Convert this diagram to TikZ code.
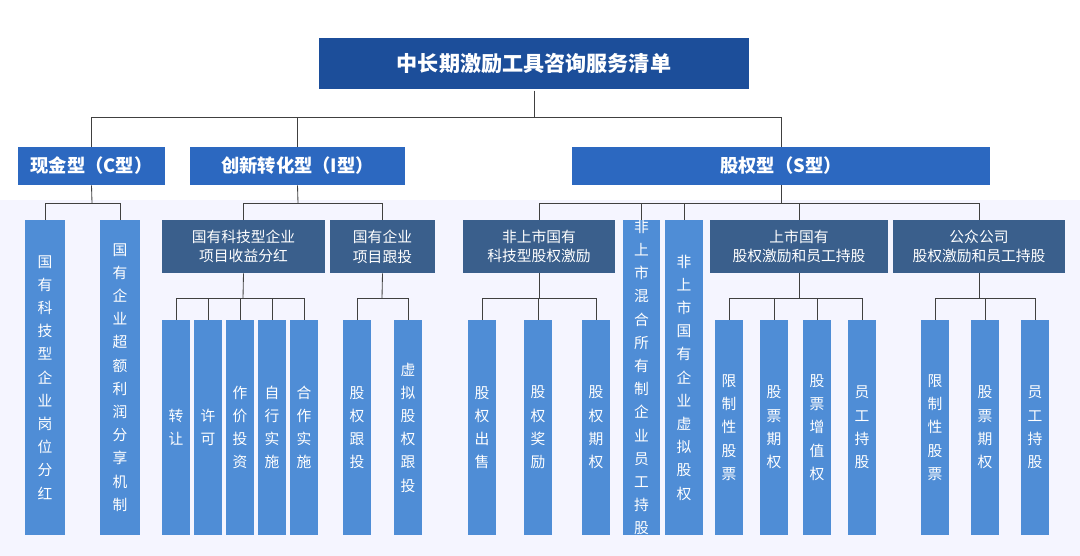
\documentclass[tikz,border=0pt]{standalone}
\usepackage{fontspec}
\setmainfont{Noto Sans CJK SC}
\XeTeXlinebreaklocale "zh"
\XeTeXlinebreakskip=0pt plus 1pt
\usetikzlibrary{positioning}

\tikzset{
  topbox/.style={draw=white,line width=1pt,fill=titleblue,text=white,font=\bfseries\fontsize{15}{18}\selectfont},
  typebox/.style={fill=typeblue,text=white,font=\bfseries\fontsize{13}{16}\selectfont},
  subbox/.style={fill=subblue,text=white,align=center,font=\fontsize{10.5}{14}\selectfont},
  colbox/.style={fill=colblue,text=white,text width=1.1em,align=center,font=\fontsize{10.5}{16.5}\selectfont},
  link/.style={draw=linegray,line width=0.6pt}
}
\colorlet{titleblue}{blue!55!black!90}
\definecolor{titleblue}{HTML}{1C4E9A}
\definecolor{typeblue}{HTML}{2C68C0}
\definecolor{subblue}{HTML}{3A5F8C}
\definecolor{colblue}{HTML}{4F8DD6}
\definecolor{linegray}{HTML}{404040}

% box from corners: name, x1, y1, x2, y2, style, text
\newcommand{\bx}[7]{%
  \node[#6,minimum width={(#4-#2)*0.025cm},minimum height={(#5-#3)*0.025cm},inner sep=0pt]
    (#1) at ({(#2+#4)/2},{(#3+#5)/2}) {#7};}

\begin{document}
\begin{tikzpicture}[x=0.025cm,y=-0.025cm]
  \useasboundingbox[fill=white] (0,0) rectangle (1080,556);
  \fill[blue!4] (0,200) rectangle (1080,556);

  % title and types
  \bx{title}{318}{37}{750}{90}{topbox}{中长期激励工具咨询服务清单}
  \bx{cash}{18}{147}{165}{185}{typebox}{现金型（C型）}
  \bx{innov}{190}{147}{405}{185}{typebox}{创新转化型（I型）}
  \bx{equity}{572}{147}{990}{185}{typebox}{股权型（S型）}

  % second level
  \bx{profit}{162}{220}{325}{273}{subbox}{国有科技型企业\\项目收益分红}
  \bx{follow}{330}{220}{435}{273}{subbox}{国有企业\\项目跟投}
  \bx{unlisted}{463}{220}{615}{273}{subbox}{非上市国有\\科技型股权激励}
  \bx{listed}{710}{220}{888}{273}{subbox}{上市国有\\股权激励和员工持股}
  \bx{public}{893}{220}{1065}{273}{subbox}{公众公司\\股权激励和员工持股}

  % columns
  \bx{c1}{25}{220}{65}{535}{colbox}{国有科技型企业岗位分红}
  \bx{c2}{100}{220}{140}{535}{colbox}{国有企业超额利润分享机制}
  \bx{p1}{162}{320}{190}{535}{colbox}{转让}
  \bx{p2}{194}{320}{222}{535}{colbox}{许可}
  \bx{p3}{226}{320}{254}{535}{colbox}{作价投资}
  \bx{p4}{258}{320}{286}{535}{colbox}{自行实施}
  \bx{p5}{290}{320}{318}{535}{colbox}{合作实施}
  \bx{f1}{343}{320}{371}{535}{colbox}{股权跟投}
  \bx{f2}{394}{320}{422}{535}{colbox}{虚拟股权跟投}
  \bx{u1}{468}{320}{496}{535}{colbox}{股权出售}
  \bx{u2}{524}{320}{552}{535}{colbox}{股权奖励}
  \bx{u3}{582}{320}{610}{535}{colbox}{股权期权}
  \bx{mix}{623}{220}{660}{535}{colbox}{非上市混合所有制企业员工持股}
  \bx{virt}{665}{220}{703}{535}{colbox}{非上市国有企业虚拟股权}
  \bx{l1}{715}{320}{743}{535}{colbox}{限制性股票}
  \bx{l2}{760}{320}{788}{535}{colbox}{股票期权}
  \bx{l3}{803}{320}{831}{535}{colbox}{股票增值权}
  \bx{l4}{848}{320}{876}{535}{colbox}{员工持股}
  \bx{g1}{921}{320}{949}{535}{colbox}{限制性股票}
  \bx{g2}{971}{320}{999}{535}{colbox}{股票期权}
  \bx{g3}{1021}{320}{1049}{535}{colbox}{员工持股}

  % connectors
  \coordinate (b0) at (534,117);
  \draw[link] (title.south) -- (b0);
  \foreach \n in {cash,innov,equity} \draw[link] (\n.north) |- (b0);
  \coordinate (bc) at (92,203);
  \draw[link] (cash.south) -- (bc);
  \foreach \n in {c1,c2} \draw[link] (\n.north) |- (bc);
  \coordinate (bi) at (298,203);
  \draw[link] (innov.south) -- (bi);
  \foreach \n in {profit,follow} \draw[link] (\n.north) |- (bi);
  \coordinate (bs) at (781,203);
  \draw[link] (equity.south) -- (bs);
  \foreach \n in {unlisted,mix,virt,listed,public} \draw[link] (\n.north) |- (bs);
  \coordinate (bp) at (243,298);
  \draw[link] (profit.south) -- (bp);
  \foreach \n in {p1,p2,p3,p4,p5} \draw[link] (\n.north) |- (bp);
  \coordinate (bf) at (382,298);
  \draw[link] (follow.south) -- (bf);
  \foreach \n in {f1,f2} \draw[link] (\n.north) |- (bf);
  \coordinate (bu) at (539,298);
  \draw[link] (unlisted.south) -- (bu);
  \foreach \n in {u1,u2,u3} \draw[link] (\n.north) |- (bu);
  \coordinate (bl) at (799,298);
  \draw[link] (listed.south) -- (bl);
  \foreach \n in {l1,l2,l3,l4} \draw[link] (\n.north) |- (bl);
  \coordinate (bg) at (979,298);
  \draw[link] (public.south) -- (bg);
  \foreach \n in {g1,g2,g3} \draw[link] (\n.north) |- (bg);
\end{tikzpicture}
\end{document}
